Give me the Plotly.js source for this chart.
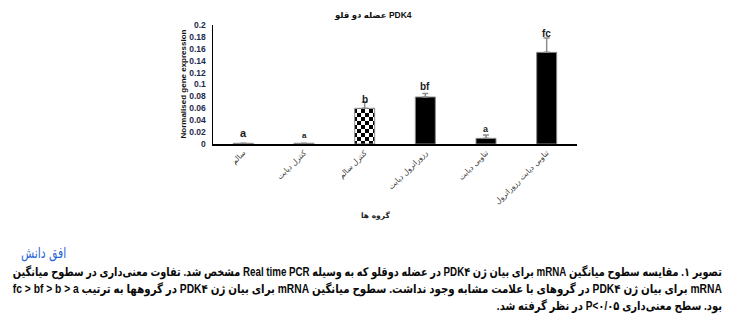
<!DOCTYPE html>
<html>
<head>
<meta charset="utf-8">
<script src="https://cdn.plot.ly/plotly-3.0.1.min.js"></script>
<style>
  html, body { margin: 0; padding: 0; background: #fff; }
  #wrap { position: relative; width: 741px; height: 324px; overflow: hidden; }
  #chart { position: absolute; left: 0; top: 0; width: 741px; height: 324px; }
  #logo { position: absolute; left: 21px; top: 244px; font-family: "DejaVu Sans", sans-serif; font-size: 15px; color: #2563d6; direction: rtl; transform: scaleX(0.72); transform-origin: left center; }
  .cap { position: absolute; right: 19px; direction: rtl; white-space: nowrap;
    font-family: "Liberation Sans", "DejaVu Sans", sans-serif; font-weight: bold; font-size: 12px; color: #0a0a0a; line-height: 16px;
    transform-origin: right center; }
</style>
</head>
<body>
<div id="wrap">
  <div id="chart"></div>
  <div id="logo">افق دانش</div>
  <div class="cap" id="cap1" style="top:264px">تصویر ۱. مقایسه سطوح میانگین mRNA برای بیان ژن PDK۴ در عضله دوقلو که به وسیله Real time PCR مشخص شد. تفاوت معنی‌داری در سطوح میانگین</div>
  <div class="cap" id="cap2" style="top:281px">mRNA برای بیان ژن PDK۴ در گروهای با علامت مشابه وجود نداشت. سطوح میانگین mRNA برای بیان ژن PDK۴ در گروهها به ترتیب fc &gt; bf &gt; b &gt; a</div>
  <div class="cap" id="cap3" style="top:298px">بود. سطح معنی‌داری P&lt;۰/۰۵ در نظر گرفته شد.</div>
</div>
<script>
const categories = ["سالم", "کنترل دیابت", "کنترل سالم", "رزوراترول دیابت", "تناوبی دیابت", "تناوبی دیابت رزوراترول"];
const values = [0.0012, 0.0012, 0.060, 0.079, 0.0095, 0.154];
const errorsPlus = [0, 0, 0.0106, 0.006, 0.0055, 0.024];
const groupLetters = ["a", "a", "b", "bf", "a", "fc"];
const letterY = [0.0185, 0.015, 0.0756, 0.096, 0.025, 0.185];
const letterSizes = [11, 8, 10, 10, 9, 10];
const barColors = ["#8a8a8a", "#8a8a8a", "#ffffff", "#000000", "#000000", "#000000"];
const barPatterns = ["", "", ".", "", "", ""];
const yTicks = [0, 0.02, 0.04, 0.06, 0.08, 0.1, 0.12, 0.14, 0.16, 0.18, 0.2];
const yTickText = ["0", "0.02", "0.04", "0.06", "0.08", "0.1", "0.12", "0.14", "0.16", "0.18", "0.2"];

// fit caption lines: lines 1-2 span the full justified width, line 3 shares their scale
(function fitCaption() {
  const target = 709;
  const c1 = document.getElementById("cap1"), c2 = document.getElementById("cap2"), c3 = document.getElementById("cap3");
  const s1 = target / c1.getBoundingClientRect().width;
  const s2 = target / c2.getBoundingClientRect().width;
  c1.style.transform = "scaleX(" + s1 + ")";
  c2.style.transform = "scaleX(" + s2 + ")";
  c3.style.transform = "scaleX(" + ((s1 + s2) / 2) + ")";
})();

const trace = {
  type: "bar",
  x: categories,
  y: values,
  marker: {
    color: barColors,
    line: { color: "#8a8a8a", width: 1 },
    pattern: { shape: barPatterns, fgcolor: "#000000", bgcolor: "#ffffff", size: 8, solidity: 0.5 }
  },
  error_y: { type: "data", symmetric: false, array: errorsPlus, arrayminus: values.map(() => 0), color: "#8c8c8c", thickness: 1.5, width: 3 },
  hoverinfo: "none"
};

const annotations = categories.map((c, i) => ({
  x: c, y: letterY[i], xref: "x", yref: "y", text: groupLetters[i], showarrow: false,
  font: { family: "Liberation Sans, Arial, sans-serif", size: letterSizes[i], color: "#1a1a1a", weight: "bold" },
  yanchor: "middle"
}));
annotations.push({
  xref: "paper", yref: "paper", x: (373 - 213) / 364, y: 1, yshift: 10, yanchor: "middle",
  text: "<b>عضله دو قلو PDK4</b>", showarrow: false,
  font: { family: "Liberation Sans, DejaVu Sans, sans-serif", size: 8.5, color: "#111" }
});
annotations.push({
  xref: "paper", yref: "paper", x: (375 - 213) / 364, y: 0, yshift: -71, yanchor: "middle",
  text: "<b>گروه ها</b>", showarrow: false,
  font: { family: "DejaVu Sans, sans-serif", size: 7.5, color: "#222" }
});
annotations.push({
  xref: "paper", yref: "paper", x: 0, xshift: -30, y: 0.5, xanchor: "center", yanchor: "middle", textangle: -90,
  text: "<b>Normalised gene expression</b>", showarrow: false,
  font: { family: "Liberation Sans, Arial, sans-serif", size: 8, color: "#111" }
});

const layout = {
  width: 741, height: 324,
  margin: { l: 213, r: 164, t: 25, b: 180, pad: 0 },
  paper_bgcolor: "#ffffff", plot_bgcolor: "#ffffff",
  showlegend: false,
  bargap: 0.67,
  xaxis: {
    type: "category", showline: true, linecolor: "#000", linewidth: 1.5, ticks: "", showgrid: false, zeroline: false,
    tickangle: -45, tickfont: { family: "DejaVu Sans, sans-serif", size: 7.5, color: "#333" }, automargin: false
  },
  yaxis: {
    range: [0, 0.2], tickvals: yTicks, ticktext: yTickText, showline: true, linecolor: "#000", linewidth: 1.5,
    ticks: "", showgrid: false, zeroline: false, automargin: false, ticklabelstandoff: 4,
    tickfont: { family: "Liberation Sans, Arial, sans-serif", size: 8.5, color: "#1c2a4d", weight: "bold" }
  },
  annotations: annotations
};

Plotly.newPlot("chart", [trace], layout, { staticPlot: true, displayModeBar: false }).then(() => {
  const NS = "http://www.w3.org/2000/svg";
  document.querySelectorAll("#chart pattern").forEach(p => {
    while (p.firstChild) p.removeChild(p.firstChild);
    p.setAttribute("width", "8"); p.setAttribute("height", "8");
    p.setAttribute("patternUnits", "userSpaceOnUse");
    p.removeAttribute("patternTransform");
    const mk = (x, y, w, h, f) => { const r = document.createElementNS(NS, "rect"); r.setAttribute("x", x); r.setAttribute("y", y); r.setAttribute("width", w); r.setAttribute("height", h); r.setAttribute("fill", f); p.appendChild(r); };
    mk(0, 0, 8, 8, "#ffffff"); mk(0, 0, 4, 4, "#000000"); mk(4, 4, 4, 4, "#000000");
  });
});
</script>
</body>
</html>
